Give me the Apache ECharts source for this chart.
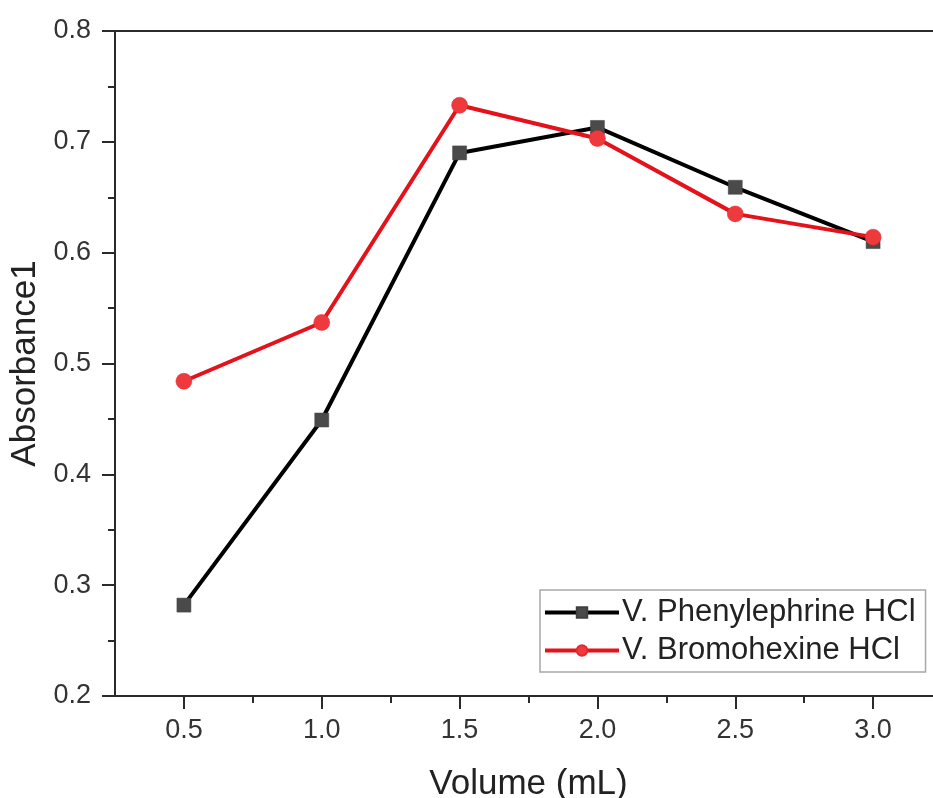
<!DOCTYPE html>
<html>
<head>
<meta charset="utf-8">
<script src="https://cdn.jsdelivr.net/npm/echarts@6/dist/echarts.min.js"></script>
<style>
  html, body { margin: 0; padding: 0; background: #fff; overflow: hidden; width: 933px; height: 798px; }
  #chart { width: 950px; height: 798px; }
</style>
</head>
<body>
<div id="chart"></div>
<script>
// Added volume (mL)
const volumes = [0.5, 1.0, 1.5, 2.0, 2.5, 3.0];
// Absorbance readings
const phenylephrine = [0.282, 0.449, 0.690, 0.713, 0.659, 0.610];
const bromohexine = [0.484, 0.537, 0.733, 0.703, 0.635, 0.614];
const seriesNames = ['V. Phenylephrine HCl', 'V. Bromohexine HCl'];
// Labelled ticks and the minor ticks between them
const majorTicks = [0.5, 1.0, 1.5, 2.0, 2.5, 3.0];
const minorTicks = [0.75, 1.25, 1.75, 2.25, 2.75, 3.25];

const FONT = '"Liberation Sans", Arial, sans-serif';
const AXIS_COLOR = '#2a2a2a';
const X_MIN = 0.25, X_MAX = 3.25;

const pairs = (ys) => volumes.map((x, i) => [x, ys[i]]);

const chart = echarts.init(document.getElementById('chart'), null, { renderer: 'canvas' });

chart.setOption({
  animation: false,
  backgroundColor: '#ffffff',
  grid: {
    left: 115, top: 31, bottom: 102, right: 8,
    outerBoundsMode: 'none',
    containLabel: false,
    show: true, borderColor: AXIS_COLOR, borderWidth: 2, backgroundColor: 'transparent'
  },
  xAxis: [
    {
      type: 'value',
      min: X_MIN, max: X_MAX,
      interval: 0.25,
      name: 'Volume (mL)',
      nameLocation: 'middle',
      nameGap: 71,
      nameTextStyle: { fontFamily: FONT, fontSize: 35, color: '#222' },
      axisLine: { show: true, onZero: false, lineStyle: { color: AXIS_COLOR, width: 2 } },
      axisTick: { show: true, inside: false, length: 13, customValues: majorTicks, lineStyle: { color: AXIS_COLOR, width: 2 } },
      axisLabel: {
        fontFamily: FONT, fontSize: 27, color: '#333', margin: 21,
        customValues: majorTicks,
        formatter: (v) => v.toFixed(1)
      },
      splitLine: { show: false }
    },
    {
      type: 'value',
      position: 'bottom',
      min: X_MIN, max: X_MAX,
      interval: 0.25,
      axisLine: { show: false, onZero: false },
      axisTick: { show: true, inside: false, length: 7, customValues: minorTicks, lineStyle: { color: AXIS_COLOR, width: 2 } },
      axisLabel: { show: false },
      splitLine: { show: false }
    }
  ],
  yAxis: {
    type: 'value',
    min: 0.2, max: 0.8,
    interval: 0.1,
    name: 'Absorbance1',
    nameLocation: 'middle',
    nameGap: 66,
    nameTextStyle: { fontFamily: FONT, fontSize: 35, color: '#222' },
    axisLine: { show: true, lineStyle: { color: AXIS_COLOR, width: 2 } },
    axisTick: { show: true, inside: false, length: 13, lineStyle: { color: AXIS_COLOR, width: 2 } },
    minorTick: { show: true, splitNumber: 2, length: 7, lineStyle: { color: AXIS_COLOR, width: 2 } },
    axisLabel: {
      fontFamily: FONT, fontSize: 27, color: '#333', margin: 24,
      formatter: (v) => v.toFixed(1)
    },
    splitLine: { show: false }
  },
  legend: {
    left: 540, top: 590,
    orient: 'vertical',
    padding: [7, 10, 6, 3],
    itemGap: 7,
    itemWidth: 74,
    itemHeight: 13,
    borderColor: '#a8a8a8',
    borderWidth: 1.5,
    backgroundColor: '#fff',
    lineStyle: { width: 4 },
    textStyle: { fontFamily: FONT, fontSize: 31, color: '#222', padding: [0, 0, 0, -2] },
    data: seriesNames
  },
  series: [
    {
      name: seriesNames[0],
      type: 'line',
      data: pairs(phenylephrine),
      symbol: 'rect',
      symbolSize: 14,
      lineStyle: { color: '#000', width: 4 },
      itemStyle: { color: '#4a4a4a', borderColor: '#404040', borderWidth: 0.5 },
      z: 2
    },
    {
      name: seriesNames[1],
      type: 'line',
      data: pairs(bromohexine),
      symbol: 'circle',
      symbolSize: 16,
      lineStyle: { color: '#e3121b', width: 4 },
      itemStyle: { color: '#ee3a3d', borderColor: '#e52a2e', borderWidth: 0.5 },
      z: 3
    }
  ]
});
</script>
</body>
</html>
